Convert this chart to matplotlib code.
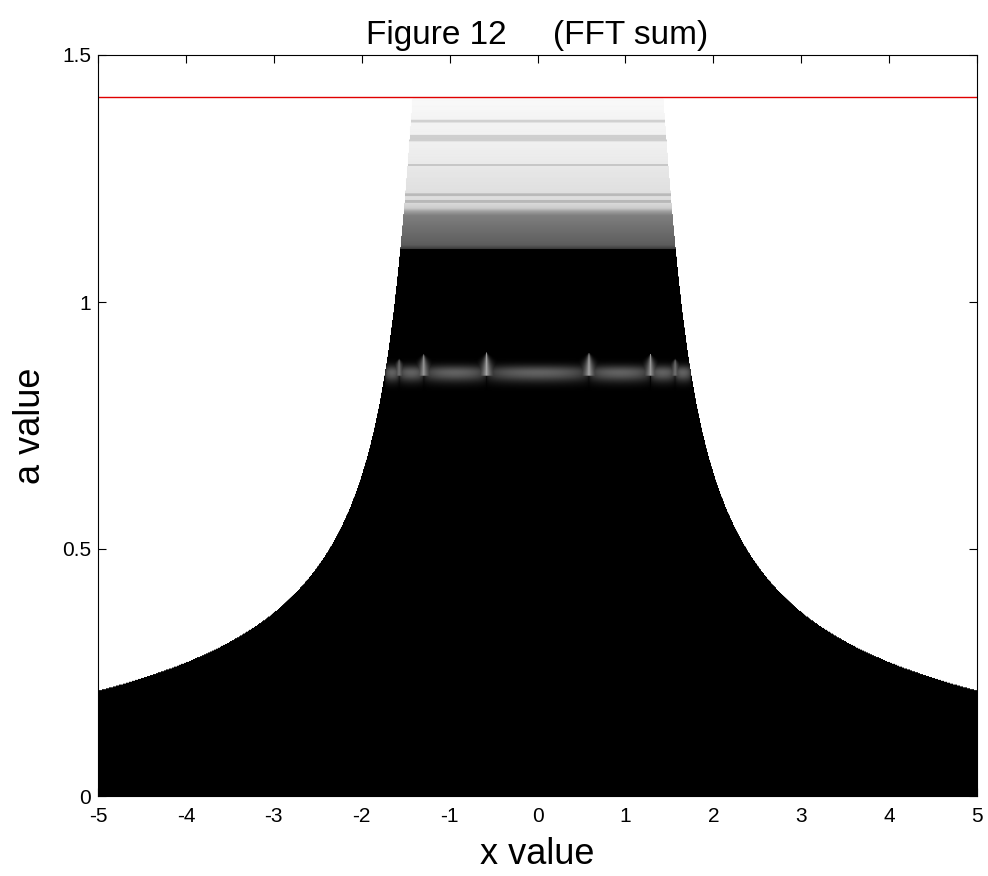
import numpy as np
import matplotlib
matplotlib.use("Agg")
import matplotlib.pyplot as plt

plt.rcParams['font.family'] = ['Liberation Sans', 'DejaVu Sans']

# ---- data ----
# right-hand boundary of the filled region (symmetric about x = 0)
bound_a = [0.213, 0.253, 0.304, 0.354, 0.419, 0.503, 0.60, 0.70, 0.86, 1.0, 1.105, 1.186, 1.24, 1.307, 1.414]
bound_x = [5.0, 4.2, 3.63, 3.14, 2.68, 2.36, 2.11, 1.925, 1.727, 1.65, 1.56, 1.52, 1.50, 1.47, 1.43]

# grey level of the upper band (0 = black, 1 = white)
top_a = [1.107, 1.115, 1.13, 1.15, 1.175, 1.183, 1.19, 1.20, 1.21, 1.23, 1.26, 1.30, 1.35, 1.40, 1.414]
top_gray = [0.22, 0.36, 0.40, 0.44, 0.50, 0.62, 0.80, 0.85, 0.87, 0.88, 0.90, 0.93, 0.95, 0.97, 0.97]

# thin darker stripes in the upper band
line_a = [1.204, 1.217, 1.277, 1.366]
line_gray = [0.72, 0.73, 0.78, 0.82]
stripe_lo, stripe_hi, stripe_gray = 1.325, 1.339, 0.81

# bright band near a = 0.86
band_center = 0.857
band_peak = 0.38
spike_x = [-1.58, -1.30, -0.585, 0.58, 1.28, 1.56]
spike_top = [0.885, 0.895, 0.898, 0.898, 0.895, 0.885]
spike_peak = [0.45, 0.6, 0.65, 0.65, 0.6, 0.45]

a_max = 1.414  # top of the data and red reference line

x_ticks = [-5, -4, -3, -2, -1, 0, 1, 2, 3, 4, 5]
y_ticks = [0, 0.5, 1, 1.5]
y_tick_labels = ['0', '0.5', '1', '1.5']

# ---- build image ----
xs = np.linspace(-5, 5, 880)
avals = np.linspace(0, a_max, 740)
X, A = np.meshgrid(xs, avals)

# smooth curve through the read boundary points (log-log fit)
coef = np.polyfit(np.log(bound_a), np.log(bound_x), 4)
bound = np.exp(np.polyval(coef, np.log(np.maximum(avals, 0.05))))
bound = np.where(avals < bound_a[0], np.maximum(bound, 5.5), bound)
inside = np.abs(X) <= bound[:, None]

row = np.where(avals >= top_a[0], np.interp(avals, top_a, top_gray), 0.0)
for la, lg in zip(line_a, line_gray):
    m = np.abs(avals - la) < 0.0025
    row[m] = np.minimum(row[m], lg)
m = (avals >= stripe_lo) & (avals <= stripe_hi)
row[m] = np.minimum(row[m], stripe_gray)
img = np.repeat(row[:, None], len(xs), axis=1)

# band lobes
bc = float(np.exp(np.polyval(coef, np.log(band_center))))
knots = np.array([-bc] + spike_x + [bc])
idx = np.clip(np.searchsorted(knots, xs) - 1, 0, len(knots) - 2)
t = (xs - knots[idx]) / (knots[idx + 1] - knots[idx])
lobe = np.clip(np.sin(np.pi * np.clip(t, 0, 1)), 0, 1) ** 0.3
prof = np.where(A >= band_center,
                np.exp(-((A - band_center) / 0.014) ** 2),
                np.exp(-((A - band_center) / 0.019) ** 2))
band = band_peak * lobe[None, :] * prof
for sx, st, sp in zip(spike_x, spike_top, spike_peak):
    frac = np.clip((st - A) / (st - band_center), 0, 1)
    w = 0.075 * frac
    sel = (A >= band_center - 0.006) & (A <= st)
    spike = np.where(sel & (w > 0),
                     sp * np.exp(-np.abs(X - sx) / np.maximum(w, 1e-4)), 0)
    band = np.maximum(band, spike)
img = np.maximum(img, band)
img = np.where(inside, img, 1.0)

# ---- plot ----
fig = plt.figure(figsize=(9.88, 8.76), dpi=100)
ax = fig.add_axes([98 / 988, 1 - 796 / 876, (977 - 98) / 988, (796 - 55) / 876])
ax.imshow(img, cmap='gray', vmin=0, vmax=1, origin='lower',
          extent=[-5, 5, 0, a_max], aspect='auto', interpolation='antialiased')
ax.axhline(a_max, color='#e00000', lw=1.0)
ax.set_xlim(-5, 5)
ax.set_ylim(0, 1.5)
ax.set_xticks(x_ticks)
ax.set_xticklabels([str(v) for v in x_ticks])
ax.set_yticks(y_ticks)
ax.set_yticklabels(y_tick_labels)
ax.tick_params(direction='in', length=6, width=0.8, top=True, right=True,
               labelsize=15)
ax.tick_params(axis='x', pad=8)
ax.tick_params(axis='y', pad=5)
for s in ax.spines.values():
    s.set_linewidth(0.8)
ax.set_xlabel('x value', fontsize=26, labelpad=8)
ax.set_ylabel('a value', fontsize=26, labelpad=10)
ax.set_title('Figure 12     (FFT sum)', fontsize=24, pad=8)

fig.savefig('out.png', dpi=100)
